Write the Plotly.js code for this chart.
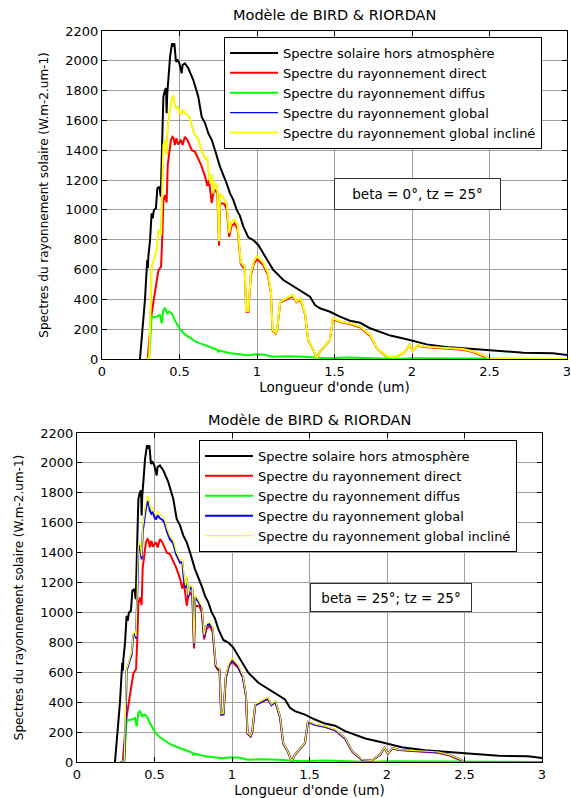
<!DOCTYPE html>
<html>
<head>
<meta charset="utf-8">
<script src="https://cdn.plot.ly/plotly-3.0.1.min.js"></script>
<style>
  body { margin: 0; padding: 0; background: #fff; }
  #chart { width: 571px; height: 798px; }
</style>
</head>
<body>
<div id="chart"></div>
<script>
// ---------- DATA ----------
const chartTitle = "Modèle de BIRD & RIORDAN";
const xTitle = "Longueur d'onde (um)";
const yTitle = "Spectres du rayonnement solaire (W.m-2.um-1)";
const seriesNames = [
  "Spectre solaire hors atmosphère",
  "Spectre du rayonnement direct",
  "Spectre du rayonnement diffus",
  "Spectre du rayonnement global",
  "Spectre du rayonnement global incliné"
];
const boxTextTop = "beta = 0°, tz = 25°";
const boxTextBottom = "beta = 25°; tz = 25°";

// Extraterrestrial spectrum (black)
const lambdaET = [0.245,0.266,0.277,0.288,0.292,0.296,0.299,0.31,0.32,0.327,0.335,0.348,0.357,0.37,0.379,0.385,0.392,0.396,0.406,0.413,0.417,0.421,0.43,0.439,0.452,0.46,0.467,0.477,0.488,0.499,0.514,0.52,0.535,0.557,0.589,0.621,0.643,0.665,0.686,0.708,0.729,0.761,0.804,0.826,0.847,0.869,0.89,0.912,0.944,0.976,1.008,1.04,1.105,1.17,1.256,1.342,1.374,1.406,1.471,1.535,1.6,1.665,1.73,1.86,1.966,2.095,2.245,2.48,2.72,2.91,3.0];
const extraterrestrial = [0,239,396,597,664,610,686,798,977,944,1000,1011,1145,1156,1089,1335,1700,1760,1804,1816,1648,1782,1900,2028,2118,2095,2118,1994,2005,1983,1916,1972,1983,1950,1871,1760,1625,1581,1514,1469,1402,1290,1178,1111,1067,1000,960,888,816,798,765,709,597,530,474,418,362,340,317,284,257,243,206,157,132,98,78,60,42,38,27];

// Direct, global and tilted spectra share one wavelength grid
const lambdaAtm = [0.28,0.295,0.305,0.315,0.32,0.33,0.342,0.353,0.363,0.374,0.381,0.389,0.396,0.406,0.417,0.424,0.434,0.445,0.455,0.462,0.47,0.48,0.49,0.5,0.51,0.52,0.535,0.55,0.565,0.58,0.6,0.62,0.64,0.665,0.679,0.69,0.70,0.708,0.718,0.729,0.744,0.755,0.762,0.775,0.79,0.805,0.82,0.835,0.855,0.875,0.895,0.91,0.92,0.93,0.945,0.96,0.98,1.0,1.04,1.07,1.09,1.1,1.12,1.13,1.15,1.19,1.23,1.255,1.28,1.31,1.33,1.36,1.385,1.405,1.45,1.47,1.49,1.535,1.6,1.665,1.73,1.775,1.84,1.9,1.955,1.983,2.005,2.035,2.075,2.18,2.33,2.4,2.48,2.5,3.0];
const direct = [0,0,130,270,300,370,440,520,590,610,620,820,1060,1100,1050,1300,1400,1470,1490,1480,1435,1480,1440,1460,1470,1435,1490,1470,1440,1400,1390,1345,1300,1225,1160,1200,1100,1045,1110,1135,1110,760,1040,1045,1040,1000,820,890,910,870,640,615,610,317,317,560,640,670,630,565,440,190,170,195,380,400,420,380,400,300,125,70,5,48,100,125,268,248,235,212,155,70,12,10,48,95,55,92,80,72,62,45,12,0,0];
const globalH = [0,0,10,320,619,650,686,731,854,865,832,1200,1435,1469,1370,1560,1648,1720,1760,1760,1700,1680,1692,1655,1640,1670,1648,1640,1620,1559,1503,1480,1402,1345,1350,1230,1175,1240,1111,1178,1167,790,1110,1095,1070,1040,845,921,932,900,650,630,625,322,325,575,655,690,645,578,450,195,175,200,385,408,430,385,407,306,128,72,5,49,105,127,273,252,239,217,161,72,15,11,49,98,56,94,83,76,67,49,15,0,0];
// Top chart: beta = 0, tilted spectrum coincides with global
const tiltedTop = globalH;
// Bottom chart: beta = 25
const globalB = [0,0,10,310,610,640,676,722,845,858,826,1190,1420,1452,1355,1540,1630,1700,1740,1735,1680,1660,1672,1636,1622,1650,1630,1620,1600,1542,1488,1465,1388,1332,1338,1220,1165,1228,1102,1168,1157,785,1100,1085,1060,1030,838,912,922,892,645,625,620,318,322,570,648,683,638,572,446,193,173,198,381,404,426,381,403,303,126,71,5,48,104,126,270,249,236,214,159,71,14,10,48,97,55,93,82,75,66,48,14,0,0];
const tiltedB = [0,0,11,322,622,654,690,736,862,872,838,1210,1446,1478,1378,1570,1660,1735,1772,1770,1712,1690,1700,1664,1650,1678,1655,1647,1626,1565,1508,1485,1408,1350,1355,1236,1180,1245,1116,1184,1172,793,1114,1099,1074,1044,848,925,936,904,652,632,627,323,327,577,658,693,648,580,452,196,176,201,387,410,432,386,409,307,128,72,5,49,105,127,274,253,240,218,162,72,15,11,49,98,56,94,83,76,67,49,15,0,0];

// Diffuse spectrum (green)
const lambdaDif = [0.29,0.305,0.32,0.335,0.353,0.374,0.385,0.396,0.406,0.421,0.434,0.45,0.475,0.503,0.535,0.568,0.6,0.632,0.68,0.718,0.745,0.75,0.76,0.8,0.83,0.9,0.933,1.0,1.05,1.1,1.2,1.3,1.385,1.45,1.6,1.7,1.8,1.9,2.0,2.3,2.5,3.0];
const diffuse = [0,15,284,280,284,295,239,329,340,306,318,306,250,200,165,139,120,105,88,72,62,49,56,45,38,30,25,32,28,15,18,15,8,5,10,8,2,0,5,3,0,0];

// ---------- STYLE ----------
const FONT = "DejaVu Sans";
const W = 571, H = 798;
const colors = ["#000000", "#ff0000", "#00ff00", "#0000ff", "#ffff00"];

function traces(xa, ya, leg, glob, tilt, blueW, yellowW) {
  return [
    {x: lambdaET, y: extraterrestrial, name: seriesNames[0], line: {color: colors[0], width: 2}},
    {x: lambdaAtm, y: direct, name: seriesNames[1], line: {color: colors[1], width: 2}},
    {x: lambdaDif, y: diffuse, name: seriesNames[2], line: {color: colors[2], width: 2}},
    {x: lambdaAtm, y: glob, name: seriesNames[3], line: {color: colors[3], width: blueW}},
    {x: lambdaAtm, y: tilt, name: seriesNames[4], line: {color: colors[4], width: yellowW}}
  ].map(t => Object.assign(t, {type: "scatter", mode: "lines", xaxis: xa, yaxis: ya, legend: leg, hoverinfo: "skip"}));
}

const data = [].concat(
  traces("x", "y", "legend", globalH, tiltedTop, 1.2, 2),
  traces("x2", "y2", "legend2", globalB, tiltedB, 2, 1.2)
);

function xAxis(dom, anchor) {
  return {
    domain: dom, anchor: anchor, range: [0, 3], tick0: 0, dtick: 0.5,
    ticks: "inside", ticklen: 5, tickcolor: "#000", showline: true, linecolor: "#000", linewidth: 1,
    mirror: "ticks", showgrid: true, gridcolor: "#a0a0a0", gridwidth: 1, zeroline: false,
    ticklabeloverflow: "allow",
    tickfont: {family: FONT, size: 13, color: "#000"},
    title: {text: xTitle, font: {family: FONT, size: 13.5, color: "#000"}, standoff: 3}
  };
}
function yAxis(dom, anchor) {
  return {
    domain: dom, anchor: anchor, range: [0, 2200], tick0: 0, dtick: 200,
    ticks: "inside", ticklen: 5, tickcolor: "#000", showline: true, linecolor: "#000", linewidth: 1,
    mirror: "ticks", showgrid: true, gridcolor: "#a0a0a0", gridwidth: 1, zeroline: false,
    ticklabeloverflow: "allow",
    tickfont: {family: FONT, size: 13, color: "#000"},
    title: {text: yTitle, font: {family: FONT, size: 12, color: "#000"}, standoff: 14}
  };
}
function legendCfg(x, y) {
  return {
    x: x, y: y, xanchor: "left", yanchor: "top", xref: "paper", yref: "paper",
    bgcolor: "#ffffff", bordercolor: "#000000", borderwidth: 1,
    font: {family: FONT, size: 13, color: "#000"}, itemwidth: 48, traceorder: "normal"
  };
}

const layout = {
  width: W, height: H,
  margin: {l: 0, r: 0, t: 0, b: 0},
  paper_bgcolor: "#ffffff", plot_bgcolor: "#ffffff",
  showlegend: true,
  font: {family: FONT, size: 13, color: "#000"},
  xaxis: xAxis([102 / W, 567 / W], "y"),
  yaxis: yAxis([1 - 359 / H, 1 - 31 / H], "x"),
  xaxis2: xAxis([77 / W, 542 / W], "y2"),
  yaxis2: yAxis([1 - 762 / H, 1 - 433 / H], "x2"),
  legend: legendCfg(224 / W, 1 - 37 / H),
  legend2: legendCfg(199 / W, 1 - 440 / H),
  annotations: [
    {text: chartTitle, xref: "paper", yref: "paper", x: 334.5 / W, y: 1 - 15 / H, xanchor: "center", yanchor: "middle",
     showarrow: false, font: {family: FONT, size: 14.5, color: "#000"}},
    {text: chartTitle, xref: "paper", yref: "paper", x: 309.5 / W, y: 1 - 420 / H, xanchor: "center", yanchor: "middle",
     showarrow: false, font: {family: FONT, size: 14.5, color: "#000"}},
    {text: boxTextTop, xref: "paper", yref: "paper", x: 334 / W, y: 1 - 178 / H, xanchor: "left", yanchor: "top",
     showarrow: false, width: 165, height: 30, bordercolor: "#333", borderwidth: 1, borderpad: 0, bgcolor: "#ffffff",
     font: {family: FONT, size: 13.5, color: "#000"}},
    {text: boxTextBottom, xref: "paper", yref: "paper", x: 310 / W, y: 1 - 583 / H, xanchor: "left", yanchor: "top",
     showarrow: false, width: 160, height: 27, bordercolor: "#333", borderwidth: 1, borderpad: 0, bgcolor: "#ffffff",
     font: {family: FONT, size: 13.5, color: "#000"}}
  ]
};

Plotly.newPlot("chart", data, layout, {staticPlot: true, displayModeBar: false});
</script>
</body>
</html>
